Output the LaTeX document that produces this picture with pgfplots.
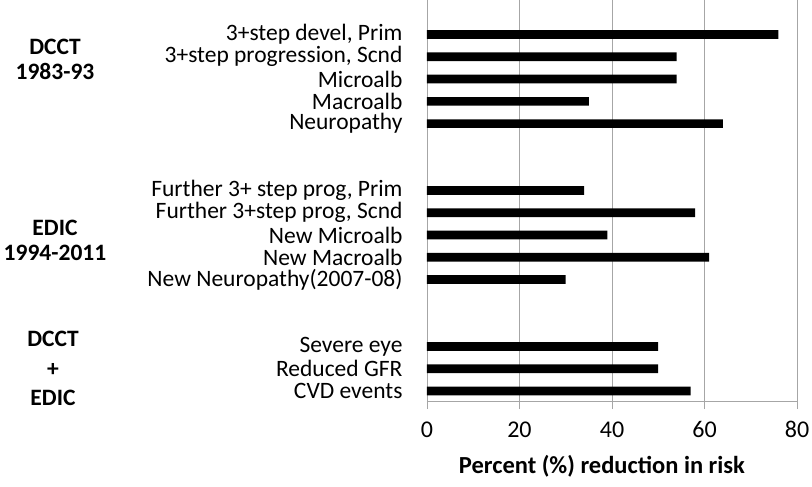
\documentclass[border=0pt]{standalone}
\usepackage{fontspec}
\setmainfont{Carlito}
\usepackage{pgfplots}
\pgfplotsset{compat=1.18}
\definecolor{gridgray}{HTML}{A6A6A6}
\begin{document}
\begin{tikzpicture}
\begin{axis}[
  at={(0,0)}, anchor=south west,
  scale only axis, width=370bp, height=401bp,
  xbar, bar width=8.7bp,
  xmin=0, xmax=80, ymin=-0.45, ymax=17.55,
  xtick={0,20,40,60,80},
  xmajorgrids, grid style={draw=gridgray, line width=0.8pt},
  axis line style={draw=gridgray, line width=0.8pt},
  axis x line*=bottom, axis y line*=left,
  tick align=outside,
  xtick style={draw=gridgray, line width=0.8pt},
  major tick length=8bp,
  ytick={16,15,14,13,12,9,8,7,6,5,2,1,0},
  yticklabels={{3+step devel, Prim},{3+step progression, Scnd},{Microalb},{Macroalb},{Neuropathy},{Further 3+ step prog, Prim},{Further 3+step prog, Scnd},{New Microalb},{New Macroalb},{New Neuropathy(2007-08)},{Severe eye},{Reduced GFR},{CVD events}},
  ytick style={draw=none},
  y tick label style={font=\fontsize{23.5bp}{25bp}\selectfont, xshift=-13bp, inner ysep=0pt},
  x tick label style={font=\fontsize{24bp}{26bp}\selectfont, yshift=-9bp},
  /pgf/number format/assume math mode=true,
  xlabel={\textbf{Percent (\%) reduction in risk}},
  xlabel style={font=\fontsize{24.5bp}{26bp}\selectfont, at={(axis description cs:0.473,0)}, anchor=center, yshift=-65bp},
  clip=false,
]
\addplot[fill=black, draw=none] coordinates {(76,16) (54,15) (54,14) (35,13) (64,12) (34,9) (58,8) (39,7) (61,6) (30,5) (50,2) (50,1) (57,0)};
\node[align=center, font=\fontsize{23.5bp}{25bp}\selectfont\bfseries] at (axis cs:0,14.9) [xshift=-372bp] {DCCT\\1983-93};
\node[align=center, font=\fontsize{23.5bp}{25.5bp}\selectfont\bfseries] at (axis cs:0,6.75) [xshift=-372bp] {EDIC\\1994-2011};
\node[align=center, font=\fontsize{23.5bp}{29.5bp}\selectfont\bfseries] at (axis cs:0,1) [xshift=-374bp] {DCCT\\+\\EDIC};
\end{axis}
\pgfresetboundingbox
\path (-427bp,-86bp) rectangle (385bp,401bp);
\end{tikzpicture}
\end{document}
